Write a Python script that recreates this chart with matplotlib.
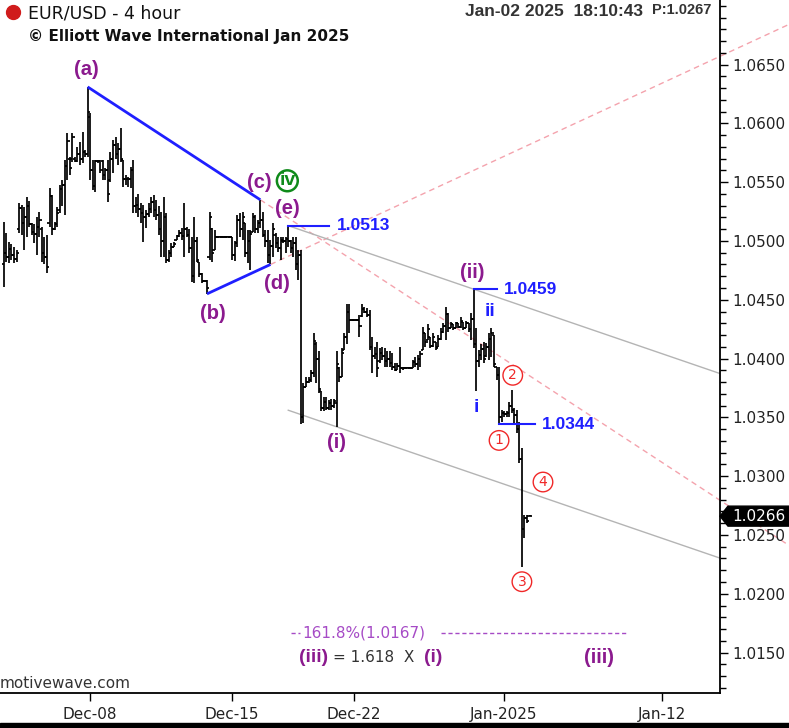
import matplotlib
matplotlib.use("Agg")
import matplotlib.pyplot as plt
from matplotlib import transforms
from matplotlib.patches import Polygon, Rectangle
from matplotlib.lines import Line2D
from matplotlib.ticker import MultipleLocator, FixedLocator, FormatStrFormatter

# ---------------- data (EUR/USD 4-hour bars) ----------------
opens = [
    1.0480, 1.0490, 1.0486, 1.0493, 1.0488, 1.0485, 1.0510, 1.0528, 1.0515, 1.0520,
    1.0530, 1.0514, 1.0508, 1.0506, 1.0512, 1.0510, 1.0490, 1.0486, 1.0515, 1.0538,
    1.0510, 1.0514, 1.0526, 1.0544, 1.0548, 1.0564, 1.0570, 1.0570, 1.0570, 1.0568,
    1.0574, 1.0570, 1.0576, 1.0574, 1.0605, 1.0560, 1.0547, 1.0568, 1.0568, 1.0568,
    1.0556, 1.0560, 1.0552, 1.0570, 1.0582, 1.0574, 1.0578, 1.0569, 1.0553, 1.0553,
    1.0553, 1.0560, 1.0530, 1.0531, 1.0527, 1.0524, 1.0520, 1.0523, 1.0527, 1.0533,
    1.0526, 1.0522, 1.0510, 1.0500, 1.0520, 1.0484, 1.0490, 1.0495, 1.0501, 1.0504,
    1.0507, 1.0504, 1.0510, 1.0505, 1.0494, 1.0470, 1.0500, 1.0482, 1.0472, 1.0466,
    1.0466, 1.0486, 1.0510, 1.0492, 1.0503, 1.0503, 1.0503, 1.0503, 1.0503, 1.0503,
    1.0503, 1.0488, 1.0498, 1.0518, 1.0510, 1.0515, 1.0490, 1.0500, 1.0508, 1.0520,
    1.0510, 1.0515, 1.0518, 1.0505, 1.0500, 1.0488, 1.0496, 1.0505, 1.0498, 1.0494,
    1.0501, 1.0500, 1.0502, 1.0500, 1.0494, 1.0498, 1.0480, 1.0488, 1.0350, 1.0376,
    1.0380, 1.0382, 1.0388, 1.0412, 1.0400, 1.0372, 1.0358, 1.0363, 1.0358, 1.0362,
    1.0360, 1.0362, 1.0392, 1.0384, 1.0407, 1.0418, 1.0440, 1.0433, 1.0433, 1.0433,
    1.0433, 1.0436, 1.0442, 1.0440, 1.0437, 1.0410, 1.0402, 1.0404, 1.0398, 1.0405,
    1.0402, 1.0398, 1.0400, 1.0396, 1.0393, 1.0390, 1.0394, 1.0392, 1.0392, 1.0392,
    1.0392, 1.0392, 1.0397, 1.0395, 1.0400, 1.0407, 1.0422, 1.0416, 1.0418, 1.0411,
    1.0414, 1.0410, 1.0417, 1.0423, 1.0428, 1.0438, 1.0426, 1.0429, 1.0426, 1.0430,
    1.0427, 1.0431, 1.0426, 1.0430, 1.0425, 1.0434, 1.0412, 1.0398, 1.0403, 1.0408,
    1.0402, 1.0410, 1.0417, 1.0420, 1.0393, 1.0386, 1.0350, 1.0354, 1.0353, 1.0354,
    1.0360, 1.0356, 1.0352, 1.0340, 1.0315, 1.0255, 1.0264, 1.0266,
]
highs = [
    1.0516, 1.0507, 1.0499, 1.0497, 1.0495, 1.0492, 1.0532, 1.0531, 1.0529, 1.0537,
    1.0534, 1.0515, 1.0514, 1.0520, 1.0525, 1.0512, 1.0503, 1.0505, 1.0545, 1.0539,
    1.0516, 1.0529, 1.0548, 1.0552, 1.0569, 1.0592, 1.0571, 1.0592, 1.0571, 1.0580,
    1.0584, 1.0593, 1.0577, 1.0631, 1.0609, 1.0569, 1.0569, 1.0569, 1.0569, 1.0569,
    1.0562, 1.0569, 1.0576, 1.0586, 1.0588, 1.0583, 1.0596, 1.0569, 1.0556, 1.0554,
    1.0563, 1.0569, 1.0537, 1.0540, 1.0532, 1.0531, 1.0526, 1.0532, 1.0537, 1.0539,
    1.0535, 1.0530, 1.0525, 1.0537, 1.0524, 1.0492, 1.0498, 1.0499, 1.0505, 1.0509,
    1.0511, 1.0532, 1.0512, 1.0510, 1.0503, 1.0520, 1.0503, 1.0482, 1.0473, 1.0467,
    1.0467, 1.0525, 1.0511, 1.0509, 1.0504, 1.0504, 1.0504, 1.0504, 1.0504, 1.0504,
    1.0503, 1.0500, 1.0522, 1.0524, 1.0525, 1.0515, 1.0509, 1.0509, 1.0524, 1.0522,
    1.0518, 1.0535, 1.0525, 1.0509, 1.0509, 1.0501, 1.0515, 1.0507, 1.0503, 1.0503,
    1.0503, 1.0503, 1.0513, 1.0501, 1.0503, 1.0503, 1.0492, 1.0492, 1.0379, 1.0384,
    1.0384, 1.0390, 1.0422, 1.0414, 1.0406, 1.0372, 1.0367, 1.0367, 1.0365, 1.0366,
    1.0366, 1.0406, 1.0393, 1.0409, 1.0422, 1.0446, 1.0446, 1.0434, 1.0434, 1.0434,
    1.0437, 1.0446, 1.0444, 1.0443, 1.0441, 1.0418, 1.0410, 1.0414, 1.0409, 1.0410,
    1.0409, 1.0406, 1.0406, 1.0405, 1.0396, 1.0396, 1.0410, 1.0393, 1.0393, 1.0393,
    1.0393, 1.0399, 1.0401, 1.0403, 1.0406, 1.0427, 1.0422, 1.0429, 1.0418, 1.0422,
    1.0414, 1.0420, 1.0426, 1.0430, 1.0444, 1.0439, 1.0431, 1.0429, 1.0431, 1.0430,
    1.0435, 1.0431, 1.0432, 1.0430, 1.0439, 1.0459, 1.0426, 1.0407, 1.0412, 1.0414,
    1.0413, 1.0422, 1.0426, 1.0420, 1.0393, 1.0393, 1.0356, 1.0355, 1.0355, 1.0363,
    1.0373, 1.0358, 1.0356, 1.0346, 1.0324, 1.0267, 1.0267, 1.0267,
]
lows = [
    1.0461, 1.0482, 1.0481, 1.0484, 1.0481, 1.0482, 1.0507, 1.0505, 1.0492, 1.0503,
    1.0512, 1.0505, 1.0498, 1.0488, 1.0503, 1.0482, 1.0480, 1.0473, 1.0512, 1.0505,
    1.0509, 1.0512, 1.0524, 1.0530, 1.0522, 1.0552, 1.0556, 1.0567, 1.0567, 1.0567,
    1.0565, 1.0566, 1.0571, 1.0571, 1.0552, 1.0543, 1.0542, 1.0566, 1.0558, 1.0552,
    1.0552, 1.0533, 1.0550, 1.0558, 1.0570, 1.0565, 1.0567, 1.0546, 1.0548, 1.0546,
    1.0545, 1.0524, 1.0524, 1.0520, 1.0515, 1.0499, 1.0511, 1.0520, 1.0524, 1.0520,
    1.0518, 1.0505, 1.0486, 1.0486, 1.0481, 1.0482, 1.0486, 1.0495, 1.0501, 1.0503,
    1.0501, 1.0486, 1.0503, 1.0490, 1.0465, 1.0464, 1.0482, 1.0469, 1.0464, 1.0465,
    1.0455, 1.0484, 1.0482, 1.0492, 1.0503, 1.0503, 1.0503, 1.0503, 1.0503, 1.0503,
    1.0484, 1.0483, 1.0495, 1.0503, 1.0501, 1.0486, 1.0481, 1.0475, 1.0508, 1.0507,
    1.0507, 1.0511, 1.0503, 1.0495, 1.0481, 1.0480, 1.0486, 1.0494, 1.0491, 1.0484,
    1.0498, 1.0490, 1.0495, 1.0490, 1.0486, 1.0475, 1.0467, 1.0344, 1.0345, 1.0376,
    1.0379, 1.0380, 1.0384, 1.0379, 1.0371, 1.0355, 1.0355, 1.0356, 1.0356, 1.0356,
    1.0358, 1.0342, 1.0380, 1.0384, 1.0407, 1.0412, 1.0422, 1.0432, 1.0432, 1.0432,
    1.0418, 1.0435, 1.0439, 1.0435, 1.0407, 1.0388, 1.0400, 1.0384, 1.0396, 1.0399,
    1.0393, 1.0393, 1.0393, 1.0390, 1.0389, 1.0390, 1.0388, 1.0390, 1.0392, 1.0392,
    1.0392, 1.0392, 1.0393, 1.0390, 1.0393, 1.0407, 1.0410, 1.0416, 1.0409, 1.0410,
    1.0407, 1.0410, 1.0416, 1.0422, 1.0416, 1.0423, 1.0426, 1.0424, 1.0426, 1.0426,
    1.0426, 1.0424, 1.0426, 1.0423, 1.0416, 1.0409, 1.0372, 1.0393, 1.0399, 1.0396,
    1.0401, 1.0399, 1.0401, 1.0393, 1.0382, 1.0344, 1.0346, 1.0350, 1.0350, 1.0350,
    1.0354, 1.0345, 1.0337, 1.0311, 1.0223, 1.0247, 1.0260, 1.0266,
]
closes = [
    1.0490, 1.0486, 1.0493, 1.0488, 1.0485, 1.0490, 1.0528, 1.0515, 1.0520, 1.0530,
    1.0514, 1.0508, 1.0506, 1.0512, 1.0518, 1.0490, 1.0486, 1.0478, 1.0538, 1.0510,
    1.0514, 1.0524, 1.0544, 1.0548, 1.0564, 1.0585, 1.0562, 1.0588, 1.0568, 1.0574,
    1.0570, 1.0576, 1.0574, 1.0610, 1.0560, 1.0547, 1.0568, 1.0568, 1.0560, 1.0556,
    1.0560, 1.0540, 1.0570, 1.0582, 1.0574, 1.0578, 1.0570, 1.0553, 1.0553, 1.0553,
    1.0560, 1.0530, 1.0531, 1.0527, 1.0524, 1.0520, 1.0523, 1.0527, 1.0533, 1.0526,
    1.0522, 1.0510, 1.0500, 1.0520, 1.0484, 1.0490, 1.0495, 1.0497, 1.0504, 1.0507,
    1.0504, 1.0510, 1.0505, 1.0494, 1.0470, 1.0500, 1.0484, 1.0472, 1.0466, 1.0466,
    1.0460, 1.0520, 1.0490, 1.0503, 1.0503, 1.0503, 1.0503, 1.0503, 1.0503, 1.0503,
    1.0488, 1.0498, 1.0518, 1.0510, 1.0520, 1.0490, 1.0500, 1.0506, 1.0520, 1.0510,
    1.0515, 1.0518, 1.0505, 1.0500, 1.0488, 1.0496, 1.0510, 1.0498, 1.0494, 1.0500,
    1.0500, 1.0502, 1.0500, 1.0494, 1.0498, 1.0480, 1.0488, 1.0350, 1.0376, 1.0380,
    1.0382, 1.0388, 1.0415, 1.0400, 1.0374, 1.0358, 1.0363, 1.0358, 1.0362, 1.0360,
    1.0364, 1.0395, 1.0384, 1.0405, 1.0418, 1.0440, 1.0433, 1.0433, 1.0433, 1.0433,
    1.0428, 1.0442, 1.0440, 1.0437, 1.0410, 1.0402, 1.0404, 1.0392, 1.0405, 1.0402,
    1.0398, 1.0400, 1.0396, 1.0393, 1.0390, 1.0394, 1.0392, 1.0392, 1.0392, 1.0392,
    1.0392, 1.0397, 1.0395, 1.0400, 1.0404, 1.0422, 1.0414, 1.0425, 1.0411, 1.0418,
    1.0409, 1.0417, 1.0423, 1.0428, 1.0438, 1.0426, 1.0429, 1.0426, 1.0430, 1.0427,
    1.0432, 1.0426, 1.0430, 1.0425, 1.0434, 1.0412, 1.0398, 1.0403, 1.0408, 1.0400,
    1.0410, 1.0417, 1.0422, 1.0395, 1.0386, 1.0350, 1.0354, 1.0353, 1.0354, 1.0360,
    1.0356, 1.0352, 1.0340, 1.0315, 1.0255, 1.0264, 1.0262, 1.0266,
]

date_labels = ["Dec-08", "Dec-15", "Dec-22", "Jan-2025", "Jan-12"]
date_tick_pos = [33.9, 89.8, 137.9, 196.9, 259.1]   # bar-index positions of the date ticks
price_ticks = [1.015, 1.020, 1.025, 1.030, 1.035, 1.040, 1.045, 1.050, 1.055, 1.060, 1.065]

# Elliott wave pivots: (bar index, label)
purple_labels_high = [(33, "(a)"), (101, "(c)"), (112, "(e)"), (185, "(ii)")]
purple_labels_low = [(80, "(b)"), (105, "(d)"), (131, "(i)")]
blue_levels = [(112, 1.0513), (185, 1.0459), (195, 1.0344)]
fib_level = 1.0167
fib_text = "161.8%(1.0167)"
last_price = 1.0266

PURPLE = "#8b1a8e"
BLUE = "#1f1fff"
RED = "#f02828"
GREEN = "#0f8a1a"
FIB = "#a64bc6"
PINK = "#f4a3ad"
LAB = ["Liberation Sans", "DejaVu Sans"]

W, H = 789, 728
fig = plt.figure(figsize=(W / 100, H / 100), dpi=100)
ax = fig.add_axes([0, 35 / H, 720 / W, 693 / H])
ax.set_xlim(-1.5, 282)
ax.set_ylim(1.01156, 1.07049)

n = len(closes)
xs = list(range(n))
tk = 0.9
ax.vlines(xs, lows, highs, color="black", lw=1.25)
ax.hlines(opens, [x - tk for x in xs], xs, color="black", lw=1.25)
ax.hlines(closes, xs, [x + tk for x in xs], color="black", lw=1.25)

# triangle boundaries + dashed extensions
ia, ic, ib, idd, ie = 33, 101, 80, 105, 112
for (x0, x1, y0, y1) in [(ia, ic, highs[ia], highs[ic]), (ib, idd, lows[ib], lows[idd])]:
    ax.plot([x0, x1], [y0, y1], color=BLUE, lw=2.0, solid_capstyle="butt", zorder=3)
    slope = (y1 - y0) / (x1 - x0)
    xe = 320
    ax.plot([x1, xe], [y1, y1 + slope * (xe - x1)], color=PINK, lw=1.0,
            ls=(0, (4, 3)), clip_on=False, zorder=1)

# channel lines
iii = 185
slope_c = (highs[iii] - highs[ie]) / (iii - ie)
xr = 282
ax.plot([ie, xr], [highs[ie], highs[ie] + slope_c * (xr - ie)], color="#b4b4b4", lw=1.0, zorder=1)
il = 131
y_start = lows[il] - slope_c * (il - ie)
ax.plot([ie, xr], [y_start, y_start + slope_c * (xr - ie)], color="#b4b4b4", lw=1.0, zorder=1)

# blue price levels
level_len = [16, 9, 14]
for (bi, lv), ln in zip(blue_levels, level_len):
    ax.plot([bi, bi + ln], [lv, lv], color=BLUE, lw=1.5, zorder=3)
    ax.text(bi + ln + 3, lv, f"{lv:.4f}", color=BLUE, fontsize=12.5, fontweight="bold",
            family=LAB, va="center", ha="left")

def off(p):
    return p * 0.72

# wave labels
for bi, t in purple_labels_high:
    ax.annotate(t, xy=(bi, highs[bi]), xytext=(off(-1), off(17)), textcoords="offset points",
                ha="center", va="center", color=PURPLE, fontsize=14.5, fontweight="bold", family=LAB)
low_off = {80: (6, -20), 105: (6, -19), 131: (0, -16)}
for bi, t in purple_labels_low:
    dx, dy = low_off[bi]
    ax.annotate(t, xy=(bi, lows[bi]), xytext=(off(dx), off(dy)), textcoords="offset points",
                ha="center", va="center", color=PURPLE, fontsize=14.5, fontweight="bold", family=LAB)

ax.annotate("iv", xy=(ic, highs[ic]), xytext=(off(27), off(19)), textcoords="offset points",
            ha="center", va="center", color=GREEN, fontsize=14, fontweight="bold", family=LAB,
            bbox=dict(boxstyle="circle,pad=0.1", fc="white", ec=GREEN, lw=1.8))

ax.annotate("i", xy=(186, lows[186]), xytext=(0, off(-16)), textcoords="offset points",
            ha="center", va="center", color=BLUE, fontsize=14, fontweight="bold", family=LAB)
ax.annotate("ii", xy=(192, highs[192]), xytext=(off(-1), off(16)), textcoords="offset points",
            ha="center", va="center", color=BLUE, fontsize=14, fontweight="bold", family=LAB)

circ = dict(boxstyle="circle,pad=0.2", fc="white", ec=RED, lw=1.0)
ax.annotate("1", xy=(195, lows[195]), xytext=(0, off(-16)), textcoords="offset points",
            ha="center", va="center", color=RED, fontsize=10, bbox=circ)
ax.annotate("2", xy=(200, highs[200]), xytext=(off(1), off(15)), textcoords="offset points",
            ha="center", va="center", color=RED, fontsize=10, bbox=circ)
ax.annotate("3", xy=(204, lows[204]), xytext=(0, off(-15)), textcoords="offset points",
            ha="center", va="center", color=RED, fontsize=10, bbox=circ)
ax.text(212.3, 1.0295, "4", ha="center", va="center", color=RED, fontsize=10, bbox=circ)

# fibonacci target
ax.plot([113.1, 116.8], [fib_level, fib_level], color=FIB, lw=1.0, ls=(0, (3, 2)))
ax.text(117.6, fib_level, fib_text, color=FIB, fontsize=11, va="center", ha="left")
ax.plot([172.2, 245.4], [fib_level, fib_level], color=FIB, lw=1.0, ls=(0, (3, 2)))
yb = 1.01454
ax.text(122.0, yb, "(iii)", color=PURPLE, fontsize=14, fontweight="bold", family=LAB, ha="center", va="center")
ax.text(129.8, yb, "= 1.618  X", color="#333333", fontsize=11, ha="left", va="center")
ax.text(169.2, yb, "(i)", color=PURPLE, fontsize=14, fontweight="bold", family=LAB, ha="center", va="center")
ax.text(234.3, yb, "(iii)", color=PURPLE, fontsize=14.5, fontweight="bold", family=LAB, ha="center", va="center")

# axes styling
for s in ["top", "left"]:
    ax.spines[s].set_visible(False)
for s in ["right", "bottom"]:
    ax.spines[s].set_linewidth(1.3)
ax.yaxis.tick_right()
ax.yaxis.set_major_locator(FixedLocator(price_ticks))
ax.yaxis.set_minor_locator(MultipleLocator(0.001))
ax.yaxis.set_major_formatter(FormatStrFormatter("%.4f"))
ax.tick_params(axis="y", which="major", length=6, width=1, labelsize=11, pad=3, labelcolor="#222222")
ax.tick_params(axis="y", which="minor", length=4, width=1)
ax.set_xticks(date_tick_pos)
ax.set_xticklabels(date_labels)
ax.tick_params(axis="x", length=6, width=1, labelsize=11, pad=4, labelcolor="#222222")

# last price tag
trans = transforms.blended_transform_factory(ax.transAxes, ax.transData)
hh = 0.00085
tag = Polygon([[1.0, last_price], [1.0 + 8 / 720, last_price + hh], [1.2, last_price + hh],
               [1.2, last_price - hh], [1.0 + 8 / 720, last_price - hh]],
              closed=True, transform=trans, clip_on=False, color="black", zorder=5)
ax.add_patch(tag)
ax.text(1.0 + 12 / 720, last_price, f"{last_price:.4f}", transform=trans, color="white",
        fontsize=11, va="center", ha="left", zorder=6, clip_on=False)

# header texts
def fx(p):
    return p / W

def fy(p):
    return 1 - p / H

fig.add_artist(Line2D([fx(13)], [fy(12)], marker="o", ms=10, color="#d01c1c", mec="#d01c1c"))
fig.text(fx(28), fy(13), "EUR/USD - 4 hour", fontsize=12.5, color="#111111", va="center", ha="left")
fig.text(fx(28), fy(36), "\u00a9 Elliott Wave International Jan 2025", fontsize=11, fontweight="bold",
         color="#111111", va="center", ha="left")
fig.text(fx(465), fy(12), "Jan-02 2025  18:10:43", fontsize=12.5, fontweight="bold", family=LAB,
         color="#333333", va="center", ha="left")
fig.text(fx(652), fy(10), "P:1.0267", fontsize=10.5, fontweight="bold", family=LAB, color="#333333",
         va="center", ha="left")
fig.text(fx(0), fy(684), "motivewave.com", fontsize=11, color="#333333", va="center", ha="left")

fig.add_artist(Rectangle((0, 0), 1, 5 / H, transform=fig.transFigure, color="black"))

fig.savefig("out.png", dpi=100)
